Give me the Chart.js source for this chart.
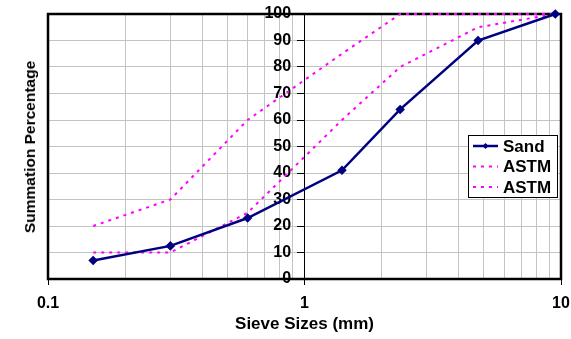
<!DOCTYPE html>
<html>
<head>
<meta charset="utf-8">
<script src="https://cdn.jsdelivr.net/npm/chart.js@4.4.0/dist/chart.umd.min.js"></script>
<style>
  html, body { margin: 0; padding: 0; background: #fff; }
  #wrap { position: relative; width: 571px; height: 339px; }
  #ytitle {
    position: absolute; left: 30px; top: 147px;
    transform: translate(-50%, -50%) rotate(-90deg);
    font: bold 15.5px "Liberation Sans", Arial, sans-serif; white-space: nowrap;
  }
</style>
</head>
<body>
<div id="wrap">
  <canvas id="grafica" width="571" height="339"></canvas>
  <div id="ytitle">Summation Percentage</div>
</div>
<script>
// Datos de la granulometria
const tamices = [0.15, 0.3, 0.6, 1.4, 2.36, 4.75, 9.5];
const arena = [7, 12.5, 23, 41, 64, 90, 100];
const astmSuperior = [20, 30, 60, 85, 100, 100, 100];
const astmInferior = [10, 10, 25, 60, 80, 95, 100];
const ticksX = [0.1, 1, 10];
const ticksY = [0, 10, 20, 30, 40, 50, 60, 70, 80, 90, 100];

const fuente = 'Liberation Sans, Arial, sans-serif';

const pares = vals => tamices.map((t, i) => ({ x: t, y: vals[i] }));

// Marco del area de trazado (debajo de las lineas)
const marco = {
  id: 'marco',
  beforeDatasetsDraw(chart) {
    const { ctx, chartArea: a } = chart;
    ctx.save();
    ctx.strokeStyle = '#000';
    ctx.lineWidth = 2.5;
    ctx.strokeRect(a.left, a.top, a.right - a.left, a.bottom - a.top);
    ctx.restore();
  }
};

// Leyenda dibujada dentro del grafico
const leyenda = {
  id: 'leyenda',
  afterDraw(chart) {
    const { ctx } = chart;
    ctx.save();
    const bx = 468, by = 135, bw = 89, bh = 62;
    ctx.fillStyle = '#fff';
    ctx.fillRect(bx, by, bw, bh);
    ctx.strokeStyle = '#000';
    ctx.lineWidth = 1;
    ctx.strokeRect(bx + 0.5, by + 0.5, bw, bh);
    ctx.font = 'bold 17px ' + fuente;
    ctx.textBaseline = 'middle';
    chart.data.datasets.forEach((ds, i) => {
      const y = by + 11 + i * 20.5;
      ctx.strokeStyle = ds.borderColor;
      ctx.lineWidth = ds.borderWidth;
      ctx.setLineDash(ds.borderDash || []);
      ctx.beginPath();
      ctx.moveTo(bx + 5, y);
      ctx.lineTo(bx + 30, y);
      ctx.stroke();
      ctx.setLineDash([]);
      if (ds.pointRadius > 0) {
        ctx.fillStyle = ds.borderColor;
        ctx.beginPath();
        ctx.moveTo(bx + 17.5, y - 3);
        ctx.lineTo(bx + 20.5, y);
        ctx.lineTo(bx + 17.5, y + 3);
        ctx.lineTo(bx + 14.5, y);
        ctx.closePath();
        ctx.fill();
      }
      ctx.fillStyle = '#000';
      ctx.fillText(ds.label, bx + 35, y + 1);
    });
    ctx.restore();
  }
};

const ctx = document.getElementById('grafica').getContext('2d');
const grafica = new Chart(ctx, {
  type: 'line',
  data: {
    datasets: [{
      label: 'Sand',
      data: pares(arena),
      borderColor: '#000080',
      backgroundColor: '#000080',
      borderWidth: 2.5,
      pointStyle: 'rectRot',
      pointRadius: 3,
      clip: false,
      order: 0
    }, {
      label: 'ASTM',
      data: pares(astmSuperior),
      borderColor: '#ff00ff',
      borderWidth: 2,
      borderDash: [3, 5],
      pointRadius: 0,
      clip: false,
      order: 1
    }, {
      label: 'ASTM',
      data: pares(astmInferior),
      borderColor: '#ff00ff',
      borderWidth: 2,
      borderDash: [3, 5],
      pointRadius: 0,
      clip: false,
      order: 1
    }]
  },
  options: {
    responsive: false,
    animation: false,
    layout: { padding: { left: 48, right: 10, top: 14, bottom: 0 } },
    scales: {
      x: {
        type: 'logarithmic',
        min: 0.1,
        max: 10,
        afterBuildTicks: scale => {
          const t = [];
          [0.1, 1].forEach(d => { for (let k = 1; k < 10; k++) t.push({ value: +(d * k).toFixed(2) }); });
          t.push({ value: 10 });
          scale.ticks = t;
        },
        afterFit: scale => {
          scale.height = 60;
          scale.paddingLeft = 0;
          scale.paddingRight = 0;
        },
        grid: {
          color: '#c4c4c4',
          tickLength: 6,
          tickColor: c => ticksX.includes(c.tick.value) ? '#000' : 'rgba(0,0,0,0)'
        },
        border: { display: false },
        ticks: {
          autoSkip: false,
          maxRotation: 0,
          color: '#000',
          font: { family: fuente, size: 16, weight: 'bold' },
          padding: 9,
          callback: v => ticksX.includes(v) ? String(v) : ''
        },
        title: {
          display: true,
          text: 'Sieve Sizes (mm)',
          color: '#000',
          font: { family: fuente, size: 17, weight: 'bold' },
          padding: { top: 4 }
        }
      },
      y: {
        position: { x: 1 },
        min: 0,
        max: 100,
        afterBuildTicks: scale => { scale.ticks = ticksY.map(v => ({ value: v })); },
        // el eje va dentro del area, no reserva espacio
        afterFit: scale => { scale.width = 0; },
        grid: { color: '#c4c4c4', tickLength: 7, tickColor: '#000' },
        border: { display: true, color: '#000', width: 1 },
        ticks: {
          color: '#000',
          font: { family: fuente, size: 16, weight: 'bold' },
          padding: 4,
          // espacios finales para separar la etiqueta del eje
          callback: v => v + '   '
        }
      }
    },
    plugins: {
      legend: { display: false },
      tooltip: { enabled: false }
    }
  },
  plugins: [marco, leyenda]
});
</script>
</body>
</html>
